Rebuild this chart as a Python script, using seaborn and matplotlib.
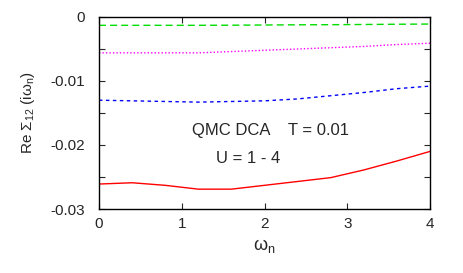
import numpy as np
import pandas as pd
import seaborn as sns
import matplotlib
matplotlib.use("Agg")
import matplotlib.pyplot as plt
from matplotlib.ticker import MultipleLocator, FixedLocator

omega = [0.0, 0.4, 0.8, 1.2, 1.6, 2.0, 2.4, 2.8, 3.2, 3.6, 4.0]
u1 = [-0.0013, -0.0013, -0.0013, -0.0013, -0.00128, -0.00125, -0.00122, -0.0012, -0.00117, -0.00113, -0.0011]
u2 = [-0.0056, -0.0056, -0.0056, -0.0056, -0.0054, -0.0052, -0.0050, -0.0048, -0.0046, -0.0043, -0.0041]
u3 = [-0.0130, -0.0131, -0.0132, -0.0133, -0.0132, -0.0131, -0.0128, -0.0123, -0.0118, -0.0112, -0.0108]
u4 = [-0.0261, -0.0259, -0.0263, -0.0269, -0.0269, -0.0263, -0.0257, -0.0251, -0.0239, -0.0225, -0.0210]

sns.set_theme(style="ticks")
plt.rcParams['font.family'] = ['Liberation Sans', 'DejaVu Sans']
plt.rcParams['mathtext.fontset'] = 'custom'
plt.rcParams['mathtext.rm'] = 'Liberation Sans'
plt.rcParams['mathtext.it'] = 'Liberation Sans'

fig = plt.figure(figsize=(4.63, 2.73), dpi=100)
ax = fig.add_axes([99/463, 1-209/273, (430-99)/463, (209-17)/273])

df = pd.DataFrame({"omega": omega, "u1": u1, "u2": u2, "u3": u3, "u4": u4})
sns.lineplot(data=df, x="omega", y="u1", ax=ax, color="#00dd00", lw=1.0)
ax.lines[-1].set_dashes([5, 3])
sns.lineplot(data=df, x="omega", y="u2", ax=ax, color="#ff00ff", lw=1.0)
ax.lines[-1].set_dashes([1, 1.5])
sns.lineplot(data=df, x="omega", y="u3", ax=ax, color="#0000ff", lw=1.0)
ax.lines[-1].set_dashes([2.5, 2.5])
sns.lineplot(data=df, x="omega", y="u4", ax=ax, color="#ff0000", lw=1.0)

ax.set_xlim(0, 4)
ax.set_ylim(-0.03, 0)
ax.xaxis.set_major_locator(MultipleLocator(1))
ax.yaxis.set_major_locator(FixedLocator([-0.03, -0.02, -0.01, 0]))
ax.yaxis.set_minor_locator(FixedLocator([-0.025, -0.015, -0.005]))
ax.set_yticklabels(["-0.03", "-0.02", "-0.01", "0"])
ax.tick_params(which='both', direction='in', top=True, right=True, length=4, width=0.8, labelsize=11)
ax.tick_params(axis='y', pad=10)
ax.tick_params(axis='x', pad=6)
for s in ax.spines.values():
    s.set_linewidth(1.0)
    s.set_color('black')
ax.set_xlabel(r"$\omega_\mathrm{n}$", fontsize=13, labelpad=4)
ax.set_ylabel(r"Re $\Sigma_{12}$ ($\mathrm{i}\omega_\mathrm{n}$)", fontsize=11, labelpad=10)
ax.text(2.07, -0.0177, "QMC DCA    T = 0.01", ha="center", va="center", fontsize=12)
ax.text(1.8, -0.0221, "U = 1 - 4", ha="center", va="center", fontsize=12)

fig.savefig("out.png", dpi=100)
